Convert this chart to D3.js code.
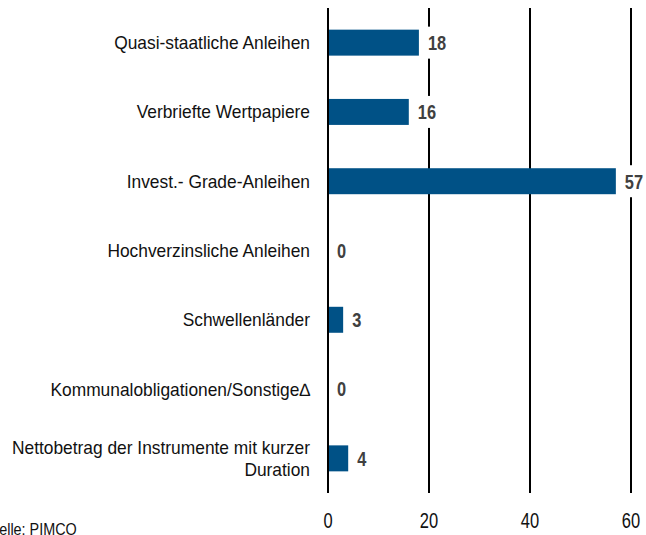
<!DOCTYPE html>
<html>
<head>
<meta charset="utf-8">
<script src="https://cdn.jsdelivr.net/npm/d3@7"></script>
<style>
  html, body { margin: 0; padding: 0; background: #fff; }
  svg { display: block; }
  text { font-family: "Liberation Sans", Arial, sans-serif; }
</style>
</head>
<body>
<svg id="chart" width="646" height="535"></svg>
<script>
const categories = [
  ["Quasi-staatliche Anleihen"],
  ["Verbriefte Wertpapiere"],
  ["Invest.- Grade-Anleihen"],
  ["Hochverzinsliche Anleihen"],
  ["Schwellenländer"],
  ["Kommunalobligationen/Sonstige∆"],
  ["Nettobetrag der Instrumente mit kurzer", "Duration"]
];
const values = [18, 16, 57, 0, 3, 0, 4];
const ticks = [0, 20, 40, 60];
const source = "Quelle: PIMCO";

const svg = d3.select("#chart");
const x = d3.scaleLinear().domain([0, 60]).range([328, 631]);
const y = d3.scaleBand().domain(d3.range(categories.length)).range([8, 493]).paddingInner(0.625).paddingOuter(0.3125);

// grid lines
svg.append("g").selectAll("line").data(ticks).join("line")
  .attr("x1", d => x(d)).attr("x2", d => x(d))
  .attr("y1", 8).attr("y2", 493)
  .attr("stroke", "#000").attr("stroke-width", 2);

// bars
svg.append("g").selectAll("rect").data(values).join("rect")
  .attr("x", x(0) + 1)
  .attr("y", (d, i) => y(i))
  .attr("width", d => Math.max(0, x(d) - x(0) - 1))
  .attr("height", y.bandwidth())
  .attr("fill", "#005186");

// value labels with white backing that breaks the grid
const vl = svg.append("g").selectAll("g").data(values).join("g")
  .attr("transform", (d, i) => `translate(${x(d) + 9},${y(i) + y.bandwidth() / 2})`);
vl.append("rect")
  .attr("x", -4).attr("y", -16)
  .attr("width", d => String(d).length * 9.5 + 8).attr("height", 32)
  .attr("fill", "#fff");
vl.append("text")
  .attr("transform", "scale(0.8,1)")
  .attr("dy", "0.36em")
  .attr("font-size", 20.5).attr("font-weight", "bold")
  .attr("fill", "#404040")
  .text(d => d);

// category labels
const cl = svg.append("g").selectAll("text").data(categories).join("text")
  .attr("text-anchor", "end")
  .attr("font-size", 18)
  .attr("fill", "#111")
  .attr("transform", (d, i) => `translate(310,${y(i) + y.bandwidth() / 2}) scale(0.965,1)`);
cl.selectAll("tspan").data(d => d.map((t, k) => ({t, k, n: d.length}))).join("tspan")
  .attr("x", 0)
  .attr("y", d => (d.k - (d.n - 1) / 2) * 22)
  .attr("dy", "0.36em")
  .text(d => d.t);

// x axis tick labels
svg.append("g").selectAll("text").data(ticks).join("text")
  .attr("transform", d => `translate(${x(d)},528) scale(0.75,1)`)
  .attr("text-anchor", "middle")
  .attr("font-size", 22)
  .attr("fill", "#111")
  .text(d => d);

// source
svg.append("text")
  .attr("transform", "translate(-20,535) scale(0.9,1)")
  .attr("font-size", 16).attr("fill", "#111")
  .text(source);
</script>
</body>
</html>
